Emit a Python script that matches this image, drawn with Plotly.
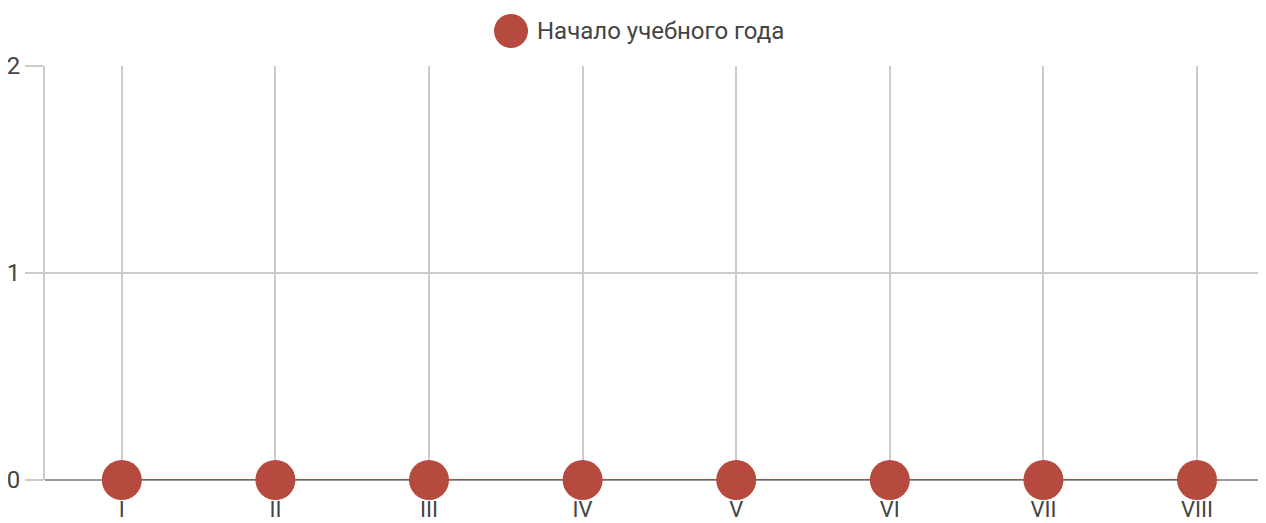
import plotly.graph_objects as go

categories = ["I", "II", "III", "IV", "V", "VI", "VII", "VIII"]
values = [0, 0, 0, 0, 0, 0, 0, 0]
series_name = "Начало учебного года"
y_ticks = [0, 1, 2]

color = "#b64a3f"
grid = "#cccccc"
font_family = "Roboto, Arial, sans-serif"

# page body has an 8px margin; compensate so the plot lands where the reference has it
OFF = 8
W, H = 1266 - OFF, 523 - OFF
L, T, B = 45 - OFF, 66 - OFF, 43
PW, PH = W - L, H - T - B

fig = go.Figure()
fig.add_trace(go.Scatter(
    x=list(range(len(categories))), y=values, mode="lines+markers",
    name=series_name,
    line=dict(color=color, width=2),
    marker=dict(color=color, size=40),
    cliponaxis=False, showlegend=False,
))

fig.update_layout(
    width=W, height=H,
    margin=dict(l=L, r=0, t=T, b=B, pad=0, autoexpand=False),
    paper_bgcolor="white", plot_bgcolor="white",
    font=dict(family=font_family, color="#444444", size=24),
    xaxis=dict(
        range=[-0.5, 7.449], tickmode="array",
        tickvals=list(range(len(categories))), ticktext=categories,
        showgrid=True, gridcolor=grid, gridwidth=2,
        zeroline=False, showline=False, ticks="",
        tickfont=dict(size=22),
        ticklabelstandoff=14, fixedrange=True, automargin=False,
    ),
    yaxis=dict(
        range=[0, 2], tickvals=y_ticks,
        showgrid=True, gridcolor=grid, gridwidth=2,
        zeroline=True, zerolinecolor="#999999", zerolinewidth=2,
        showline=True, linecolor=grid, linewidth=2,
        ticks="outside", ticklen=18, tickcolor=grid, tickwidth=2,
        fixedrange=True, automargin=False,
    ),
    shapes=[dict(type="circle", xref="paper", yref="paper",
                 x0=(494 - 45) / PW, x1=(528 - 45) / PW,
                 y0=1 + (66 - 48) / PH, y1=1 + (66 - 14) / PH,
                 fillcolor=color, line=dict(width=0))],
    annotations=[dict(text=series_name, xref="paper", yref="paper",
                      x=(535 - 45) / PW, y=1 + (66 - 31) / PH,
                      xanchor="left", yanchor="middle", showarrow=False,
                      font=dict(size=24, color="#444444", family=font_family))],
)

fig.write_html("out.html")
